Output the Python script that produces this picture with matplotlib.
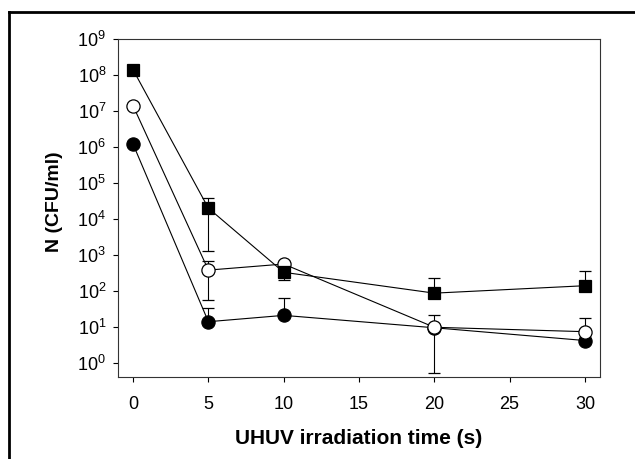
import numpy as np
import matplotlib
matplotlib.use("Agg")
import matplotlib.pyplot as plt
from matplotlib.lines import Line2D

plt.rcParams['font.family'] = ['Liberation Sans', 'DejaVu Sans']
plt.rcParams['mathtext.fontset'] = 'custom'
plt.rcParams['mathtext.rm'] = 'Liberation Sans'

# Datos
tiempo = [0, 5, 10, 20, 30]

# cuadrado negro
cuadrado = [1.4e8, 2.0e4, 330, 87, 140]
cuadrado_sup = [1.4e8, 3.9e4, 330, 225, 365]
cuadrado_inf = [1.4e8, 1.3e3, 200, 87, 140]

# circulo blanco
abierto = [1.4e7, 380, 560, 9.8, 7.4]
abierto_sup = [1.4e7, 690, 560, 22, 18]
abierto_inf = [1.4e7, 56, 560, 0.52, 7.4]

# circulo negro
lleno = [1.2e6, 14, 21, 9.5, 4.2]
lleno_sup = [1.2e6, 33, 65, 9.5, 4.2]
lleno_inf = [1.2e6, 14, 21, 9.5, 4.2]

exponentes = list(range(0, 10))
xticks = [0, 5, 10, 15, 20, 25, 30]


def err(v, sup, inf):
    v = np.array(v)
    return [v - np.array(inf), np.array(sup) - v]


fig = plt.figure(figsize=(6.35, 4.59), dpi=100)
ax = fig.add_axes([118 / 635, 1 - 377 / 459, 482 / 635, 338 / 459])

# orden de dibujo: lleno, abierto, cuadrado (el cuadrado queda encima)
series = [
    (lleno, lleno_sup, lleno_inf, 'o', 'black', 9.5),
    (abierto, abierto_sup, abierto_inf, 'o', 'white', 9.5),
    (cuadrado, cuadrado_sup, cuadrado_inf, 's', 'black', 8.5),
]
for vals, sup, inf, mk, fc, ms in series:
    ax.errorbar(tiempo, vals, yerr=err(vals, sup, inf), fmt='-', color='black',
                lw=0.8, elinewidth=0.8, capsize=4, capthick=0.8,
                marker=mk, markersize=ms, markerfacecolor=fc,
                markeredgecolor='black', markeredgewidth=0.9)

ax.set_yscale('log')
ax.set_ylim(10 ** -0.39, 1e9)
ax.set_xlim(-1, 31)
ax.set_yticks([10.0 ** e for e in exponentes])
ax.set_yticklabels([r'$10^{%d}$' % e for e in exponentes])
ax.minorticks_off()
ax.set_xticks(xticks)
ax.tick_params(direction='out', length=3.5, width=0.8, labelsize=13, colors='black')
ax.tick_params(axis='y', pad=5)
ax.tick_params(axis='x', pad=10)

for s in ax.spines.values():
    s.set_linewidth(0.8)
    s.set_color('#333333')

ax.set_xlabel('UHUV irradiation time (s)', fontsize=15, fontweight='bold', labelpad=12)
ax.set_ylabel('N (CFU/ml)', fontsize=14, fontweight='bold')
ax.yaxis.set_label_coords(-0.115, 0.52)

# marco exterior (solo izquierda y arriba)
fig.add_artist(Line2D([9 / 635, 9 / 635], [0, 1 - 12 / 459], color='black', lw=2,
                      transform=fig.transFigure))
fig.add_artist(Line2D([9 / 635, 1], [1 - 12 / 459, 1 - 12 / 459], color='black', lw=2,
                      transform=fig.transFigure))

plt.savefig('out.png', dpi=100)
